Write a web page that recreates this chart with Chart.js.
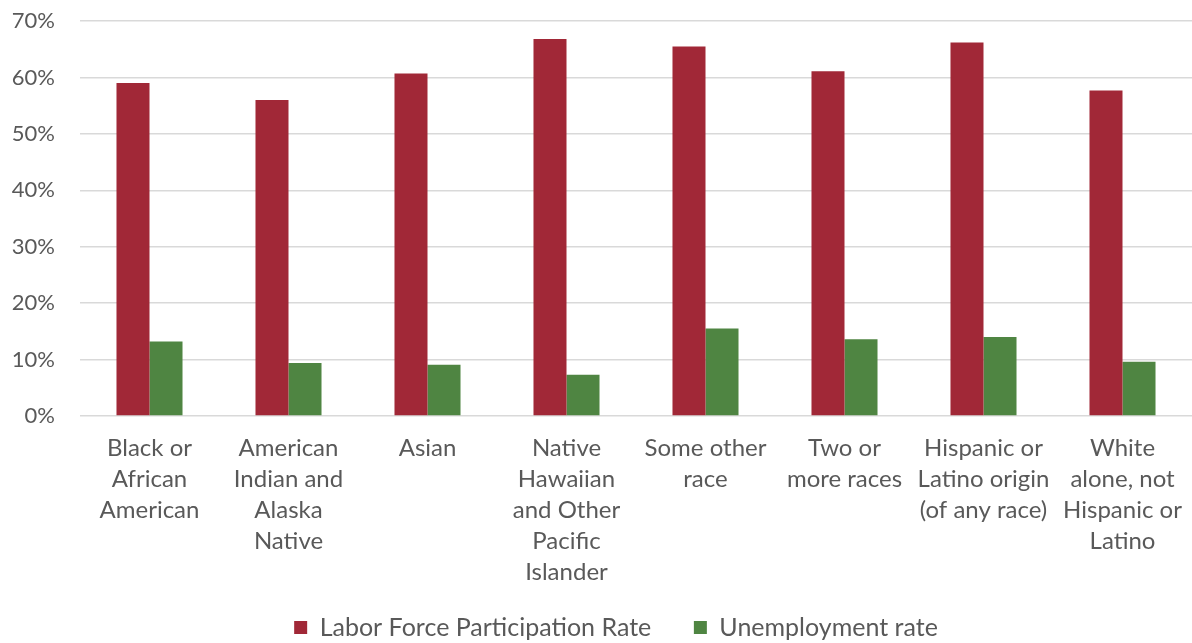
<!DOCTYPE html>
<html>
<head>
<meta charset="utf-8">
<title>Labor force participation and unemployment by race</title>
<script src="https://cdn.jsdelivr.net/npm/chart.js@4.4.1/dist/chart.umd.min.js"></script>
<style>
  html, body { margin: 0; padding: 0; background: #fff; }
  #wrap { width: 1192px; height: 643px; position: relative; }
</style>
</head>
<body>
<div id="wrap"><canvas id="chart"></canvas></div>
<script>
// Category labels, already broken into lines
const categories = [
    ['Black or', 'African', 'American'],
    ['American', 'Indian and', 'Alaska', 'Native'],
    ['Asian'],
    ['Native', 'Hawaiian', 'and Other', 'Pacific', 'Islander'],
    ['Some other', 'race'],
    ['Two or', 'more races'],
    ['Hispanic or', 'Latino origin', '(of any race)'],
    ['White', 'alone, not', 'Hispanic or', 'Latino']
]

// Rates in percent
const laborForceRate = [59.0, 56.0, 60.7, 66.8, 65.5, 61.1, 66.2, 57.7]
const unemploymentRate = [13.2, 9.4, 9.1, 7.3, 15.5, 13.6, 14.0, 9.6]

const seriesNames = ['Labor Force Participation Rate', 'Unemployment rate']
const yTicks = [0, 10, 20, 30, 40, 50, 60, 70]

const textColor = '#595959'
const fontFamily = "Lato, 'Open Sans', sans-serif"

// nudge the legend row to the right a little
const legendShift = {
    id: 'legendShift',
    afterLayout(chart) {
        chart.legend.left += 20
        chart.legend.right += 20
    }
}

const ctx = document.getElementById('chart').getContext('2d')
new Chart(ctx, {
    type: 'bar',
    data: {
        labels: categories,
        datasets: [{
            label: seriesNames[0],
            data: laborForceRate,
            backgroundColor: '#a12837',
            borderWidth: 0
        }, {
            label: seriesNames[1],
            data: unemploymentRate,
            backgroundColor: '#4f8542',
            borderWidth: 0
        }]
    },
    plugins: [legendShift],
    options: {
        responsive: true,
        maintainAspectRatio: false,
        animation: false,
        datasets: {
            bar: {
                categoryPercentage: 0.475,
                barPercentage: 1.0
            }
        },
        layout: {
            padding: { top: 21, right: 0, left: 0, bottom: -7 }
        },
        plugins: {
            tooltip: { enabled: false },
            legend: {
                position: 'bottom',
                labels: {
                    boxWidth: 13,
                    boxHeight: 13,
                    padding: 27,
                    color: textColor,
                    font: { family: fontFamily, size: 25 },
                    generateLabels: (chart) => {
                        const items = Chart.defaults.plugins.legend.labels.generateLabels(chart)
                        // a bit more room between the two entries
                        items[0].text = items[0].text + '\u2002\u2009'
                        return items
                    }
                }
            }
        },
        scales: {
            x: {
                afterFit: (scale) => {
                    scale.height = 172
                    scale.paddingLeft = 0
                    scale.paddingRight = 0
                },
                grid: { display: false, drawTicks: false },
                border: { display: false },
                ticks: {
                    color: textColor,
                    font: { family: fontFamily, size: 24, lineHeight: 1.29 },
                    maxRotation: 0,
                    autoSkip: false,
                    padding: 17
                }
            },
            y: {
                min: 0,
                max: 70,
                afterFit: (scale) => {
                    scale.width = 80
                    scale.paddingTop = 0
                    scale.paddingBottom = 0
                },
                afterBuildTicks: (scale) => {
                    scale.ticks = yTicks.map(v => ({ value: v }))
                },
                grid: {
                    color: '#d9d9d9',
                    lineWidth: 1.5,
                    drawTicks: false
                },
                border: { display: false },
                ticks: {
                    color: textColor,
                    font: { family: fontFamily, size: 22 },
                    padding: 25,
                    callback: (value) => value + '%'
                }
            }
        }
    }
})
</script>
</body>
</html>
